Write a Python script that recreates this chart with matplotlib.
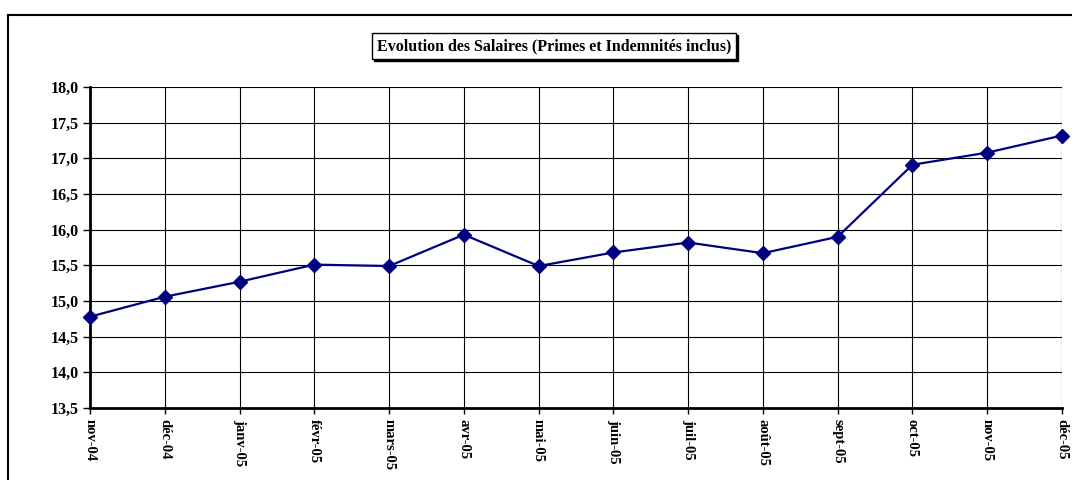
import matplotlib.pyplot as plt
from matplotlib.lines import Line2D
from matplotlib.ticker import FuncFormatter, MultipleLocator

# Données
mois = ["nov-04", "déc-04", "janv-05", "févr-05", "mars-05", "avr-05", "mai-05",
        "juin-05", "juil-05", "août-05", "sept-05", "oct-05", "nov-05", "déc-05"]
salaires = [14.78, 15.06, 15.27, 15.51, 15.49, 15.93, 15.49,
            15.68, 15.82, 15.67, 15.90, 16.91, 17.08, 17.32]

titre = "Evolution des Salaires (Primes et Indemnités inclus)"

plt.rcParams['font.family'] = ['Liberation Serif', 'DejaVu Serif']
plt.rcParams['font.weight'] = 'bold'

fig = plt.figure(figsize=(10.72, 4.8), dpi=100)
ax = fig.add_axes([90 / 1072, 1 - 408 / 480, (1062 - 90) / 1072, (408 - 87) / 480])

x = list(range(len(mois)))
ax.plot(x, salaires, color='#000080', linewidth=1.6, marker='D', markersize=7,
        markerfacecolor='#000080', markeredgecolor='#000080', zorder=3, clip_on=False)

ax.set_xlim(0, len(mois) - 1)
ax.set_ylim(13.5, 18.0)
ax.yaxis.set_major_locator(MultipleLocator(0.5))
ax.yaxis.set_major_formatter(FuncFormatter(lambda v, p: f"{v:.1f}".replace('.', ',')))
ax.set_xticks(x)
ax.set_xticklabels(mois, rotation=-90, va='top', ha='center')

ax.grid(True, color='black', linewidth=0.8)
ax.set_axisbelow(True)
for s in ['top', 'right']:
    ax.spines[s].set_visible(False)
for s in ['left', 'bottom']:
    ax.spines[s].set_linewidth(2)
ax.tick_params(axis='both', direction='out', width=1, color='black')
ax.tick_params(axis='y', length=5, pad=3, labelsize=11.5)
ax.tick_params(axis='x', length=4, pad=4, labelsize=10.5)
for lab in ax.get_xticklabels() + ax.get_yticklabels():
    lab.set_fontweight('bold')

# Titre encadré avec ombre
fig.text(554 / 1072 + 2 / 1072, 1 - 46 / 480 - 2 / 480, titre, ha='center', va='center',
         fontsize=11.5, fontweight='bold', color='none',
         bbox=dict(boxstyle='square,pad=0.3', facecolor='black', edgecolor='black'))
fig.text(554 / 1072, 1 - 46 / 480, titre, ha='center', va='center',
         fontsize=11.5, fontweight='bold', color='black',
         bbox=dict(boxstyle='square,pad=0.3', facecolor='white', edgecolor='black', linewidth=1))

# Cadre extérieur
fig.add_artist(Line2D([8 / 1072, 8 / 1072], [0, 1 - 15 / 480], color='black', linewidth=1.5,
                      transform=fig.transFigure))
fig.add_artist(Line2D([8 / 1072, 1], [1 - 15 / 480, 1 - 15 / 480], color='black', linewidth=1.5,
                      transform=fig.transFigure))

fig.savefig("out.png", dpi=100)
